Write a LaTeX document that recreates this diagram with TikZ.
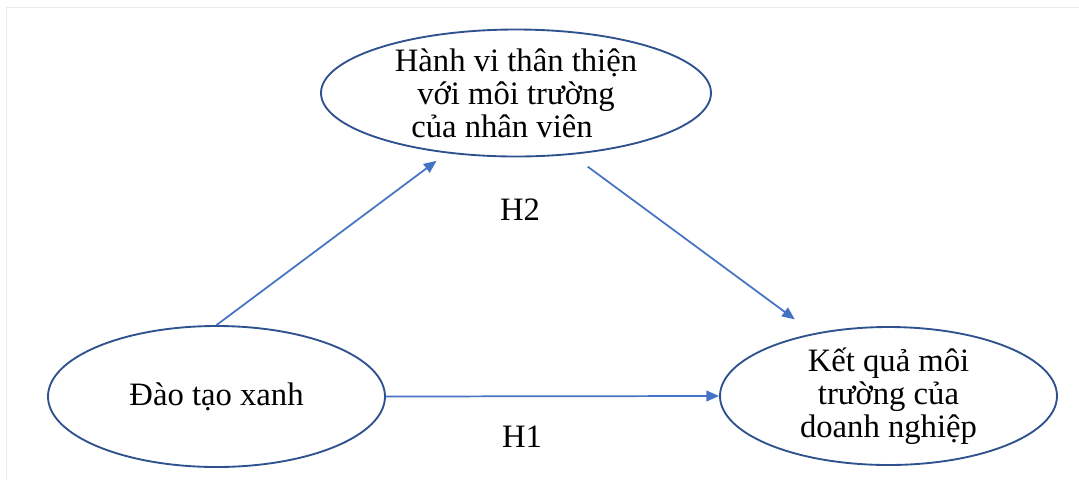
\documentclass[tikz,border=0pt]{standalone}
\usepackage{fontspec}
\setmainfont{Liberation Serif}
\usepackage{xcolor}
\usetikzlibrary{shapes.geometric, arrows.meta}

\definecolor{rimblue}{HTML}{2F528F}
\definecolor{linkblue}{HTML}{4472C4}

\begin{document}
\begin{tikzpicture}[x=0.75pt,y=-0.75pt,
    var/.style={ellipse, draw=rimblue, line width=1.4pt, inner xsep=0pt, inner ysep=-8pt,
                align=center, font={\fontsize{24.5}{24.75}\selectfont}},
    hyp/.style={inner sep=0pt, font={\fontsize{24.5}{24.75}\selectfont}},
    link/.style={draw=linkblue, line width=1.3pt, -{Triangle[length=9.5pt,width=8pt]}}]
    \useasboundingbox (0,0) rectangle (1079,480);
    \draw[black!8, line width=0.75pt] (6.5,480) -- (6.5,7) -- (1079,7);

    % variables
    \node[var, minimum width=292.5pt, minimum height=95.25pt] (behav) at (516,93)
        {Hành vi thân thiện\\với môi trường\\của nhân viên\hspace*{21pt}};
    \node[var, minimum width=252.75pt, minimum height=105.75pt] (train) at (216.5,396.5)
        {Đào tạo xanh};
    \node[var, minimum width=252.75pt, minimum height=103.5pt] (perf) at (888.5,396)
        {Kết quả môi\\trường của\\doanh nghiệp};

    % hypotheses
    \node[hyp] (h2) at (520,210) {H2};
    \node[hyp] (h1) at (522,437) {H1};

    \path[link, shorten >=9.5pt] (train.north) -- (behav.221);
    \path[link, shorten <=15pt, shorten >=17.6pt] (behav.312) -- (perf.140);
    \path[link] (train.east) -- (perf.west);
\end{tikzpicture}
\end{document}
